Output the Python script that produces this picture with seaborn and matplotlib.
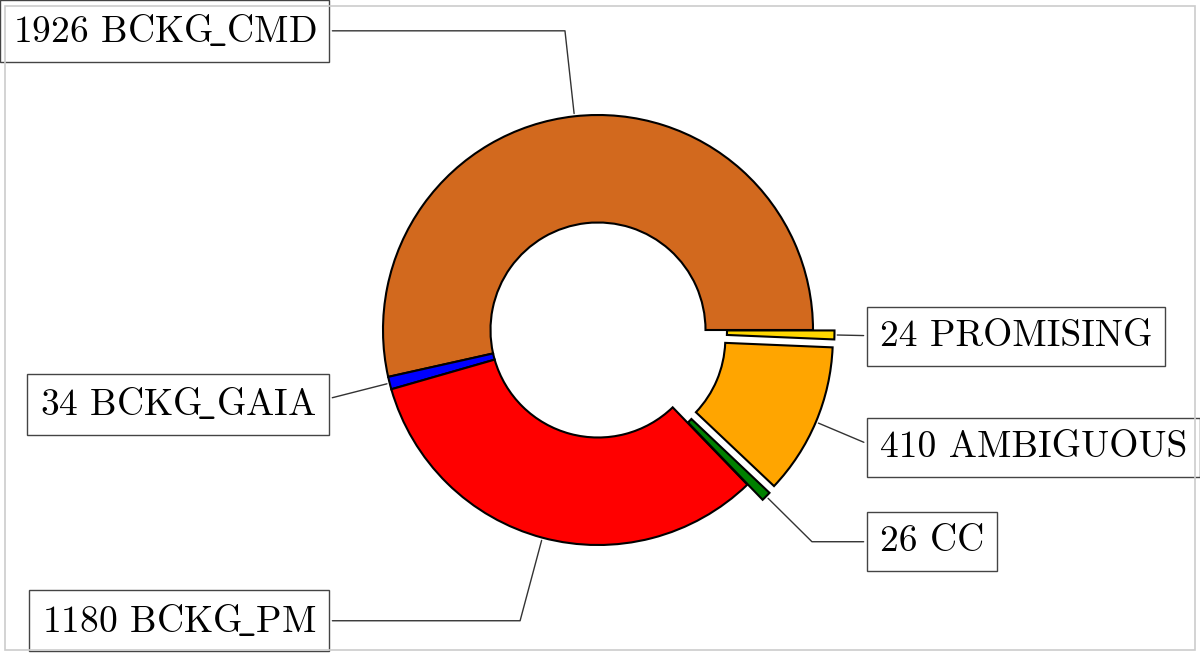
import numpy as np
import matplotlib
matplotlib.use("Agg")
import matplotlib.pyplot as plt
import seaborn as sns
from matplotlib.patches import Rectangle

sns.set_style("white")
plt.rcParams['font.family'] = ['cmr10', 'DejaVu Serif']
plt.rcParams['mathtext.fontset'] = 'cm'
plt.rcParams['axes.formatter.use_mathtext'] = True
plt.rcParams['text.color'] = 'black'

# wedges, counter-clockwise from 3 o'clock
labels = ['BCKG_CMD', 'BCKG_GAIA', 'BCKG_PM', 'CC', 'AMBIGUOUS', 'PROMISING']
counts = [1926, 34, 1180, 26, 410, 24]
colors = ['#D2691E', '#0000FF', '#FF0000', '#008000', '#FFA500', '#FFD700']
explode = [0, 0, 0, 0.1, 0.1, 0.1]

fig = plt.figure(figsize=(12, 6.56), dpi=100)
ax = fig.add_axes([0, 0, 1, 1])

# light grey frame around the picture
fig.patches.append(Rectangle((5 / 1200, 6 / 656), 1190 / 1200, 644 / 656,
                             transform=fig.transFigure, fill=False,
                             ec='#cccccc', lw=1.2, zorder=0))

wedges, _ = ax.pie(counts, colors=colors, explode=explode, startangle=0,
                   counterclock=True, radius=1,
                   wedgeprops=dict(width=0.5, edgecolor='black', linewidth=1.5))

bbox_props = dict(boxstyle="square,pad=0.34", fc="white", ec="#444444", lw=1)
for i, p in enumerate(wedges):
    ang = (p.theta2 - p.theta1) / 2. + p.theta1
    y = np.sin(np.deg2rad(ang))
    x = np.cos(np.deg2rad(ang))
    r = 1 + explode[i]
    ha = {-1: "right", 1: "left"}[int(np.sign(x))]
    # latex-like underscore
    txt = f"{counts[i]} " + labels[i].replace('_', r'$\!\_$')
    ax.annotate(txt, xy=(r * x, r * y),
                xytext=(1.31 * np.sign(x), 1.4 * y),
                ha=ha, va='center', fontsize=27, bbox=bbox_props, zorder=3,
                arrowprops=dict(arrowstyle="-", color='#333333', lw=1,
                                connectionstyle=f"angle,angleA=0,angleB={ang}"))

ax.set_aspect('equal')
ax.set_xlim(-598 / 215, 602 / 215)
ax.set_ylim(-326 / 215, 330 / 215)
ax.axis('off')

fig.savefig('out.png', dpi=100)
